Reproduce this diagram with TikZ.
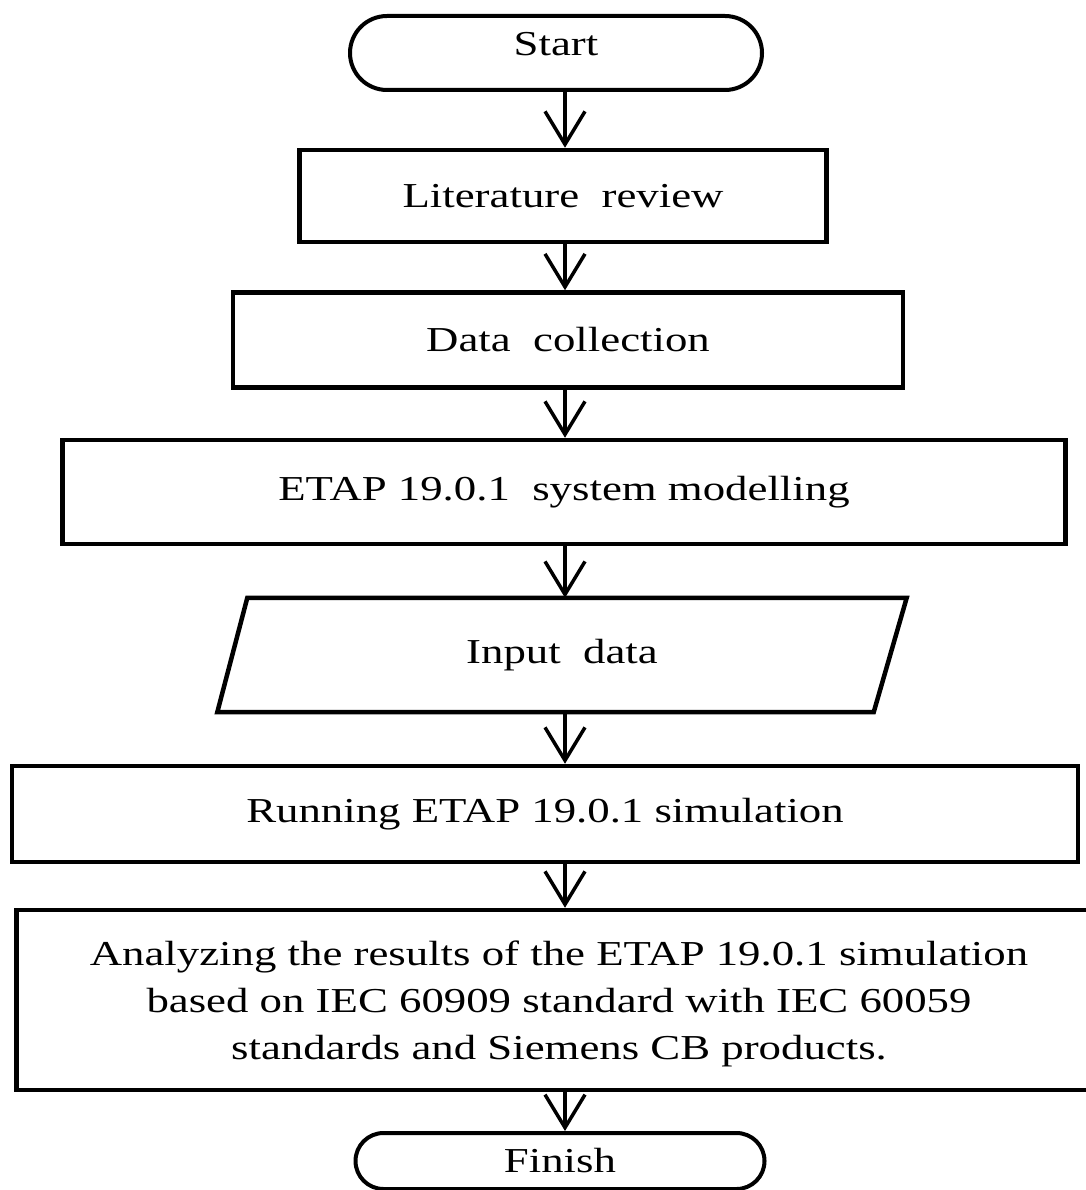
\documentclass[tikz,border=0pt]{standalone}
\usepackage{fontspec}
\setmainfont{Liberation Serif}[FakeStretch=1.28]
\usetikzlibrary{shapes.misc, arrows.meta, calc}

\begin{document}
\begin{tikzpicture}[x=1pt, y=-1pt,
    box/.style={draw, line width=4.5pt, rectangle, inner sep=0pt},
    term/.style={draw, line width=4pt, rounded rectangle, inner sep=0pt},
    arr/.style={line width=3.5pt, -{Straight Barb[length=33pt, width=40pt]}},
    font=\fontsize{35}{47}\selectfont]
    \useasboundingbox (0,0) rectangle (1085,1190);

    % Start / finish
    \node[term, minimum width=412, minimum height=74, text depth=18pt] (start) at (556,53) {Start};
    \node[term, minimum width=409, minimum height=56] (fin) at (560,1161) {Finish};

    % Steps
    \node[box, minimum width=527, minimum height=92] (lit) at (563,196) {Literature\ \ review};
    \node[box, minimum width=670, minimum height=95] (data) at (568,340) {Data\ \ collection};
    \node[box, minimum width=1003, minimum height=104] (etap) at (564,492) {ETAP 19.0.1\ \ system modelling};
    \node[inner sep=0pt, minimum width=689, minimum height=114] (inp) at (562,655) {Input\ \ data};
    \draw[line width=4.5pt] ($(inp.north west)+(30,0)$) -- (inp.north east)
      -- ($(inp.south east)+(-33,0)$) -- (inp.south west) -- cycle;
    \node[box, minimum width=1066, minimum height=96] (run) at (545,814) {Running ETAP 19.0.1 simulation};
    \node[box, align=center, minimum width=1085, minimum height=180, text depth=0pt] (ana) at (559,1000)
      {Analyzing the results of the ETAP 19.0.1 simulation\\
       based on IEC 60909 standard with IEC 60059\\
       standards and Siemens CB products.};

    % Arrows
    \coordinate (axis) at (565,0);
    \draw[arr] (start.south -| axis) -- (lit.north -| axis);
    \draw[arr] (lit.south -| axis) -- (data.north -| axis);
    \draw[arr] (data.south -| axis) -- (etap.north -| axis);
    \draw[arr] (etap.south -| axis) -- (inp.north -| axis);
    \draw[arr] (inp.south -| axis) -- (run.north -| axis);
    \draw[arr] (run.south -| axis) -- (ana.north -| axis);
    \draw[arr] (ana.south -| axis) -- (fin.north -| axis);
\end{tikzpicture}
\end{document}
